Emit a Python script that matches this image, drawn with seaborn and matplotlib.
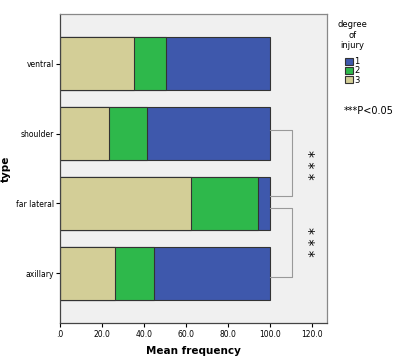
import seaborn as sns
import matplotlib.pyplot as plt
import pandas as pd
from matplotlib.patches import Patch

categories = ["ventral", "shoulder", "far lateral", "axillary"]
degree3 = [35.0, 23.5, 62.5, 26.0]
degree2 = [15.3, 17.8, 31.8, 18.6]
degree1 = [49.7, 58.7, 5.7, 55.4]

df = pd.DataFrame({"type": categories, "d1": degree1, "d2": degree2, "d3": degree3})
df["cum3"] = df["d3"]
df["cum2"] = df["d3"] + df["d2"]
df["cum1"] = df["d3"] + df["d2"] + df["d1"]

colors = {"1": "#3e58ac", "2": "#2eb84b", "3": "#d3ce97"}

fig = plt.figure(figsize=(4, 3.64), dpi=100)
ax = fig.add_axes([0.15, 0.1126, 0.6675, 0.849])
ax.set_facecolor("#f0f0f0")

# stacked horizontal bars: draw cumulative totals back to front
for col, key in [("cum1", "1"), ("cum2", "2"), ("cum3", "3")]:
    sns.barplot(data=df, x=col, y="type", order=categories, color=colors[key],
                width=0.75, edgecolor="#333333", linewidth=0.8, saturation=1, ax=ax)

ax.set_xlim(0, 127)
ax.set_ylim(3.71, -0.71)
ax.set_xticks([0, 20, 40, 60, 80, 100, 120])
ax.set_xticklabels([".0", "20.0", "40.0", "60.0", "80.0", "100.0", "120.0"], fontsize=5.5)
ax.tick_params(axis="y", labelsize=5.5, length=3, width=0.8, pad=1)
ax.tick_params(axis="x", length=3, width=0.8, pad=2)
ax.set_xlabel("Mean frequency", fontsize=7.5, fontweight="bold")
ax.set_ylabel("type", fontsize=7.5, fontweight="bold")
ax.xaxis.set_label_coords(0.5, -0.075)
ax.yaxis.set_label_coords(-0.185, 0.5)
for s in ax.spines.values():
    s.set_color("#888888")
    s.set_linewidth(0.9)
ax.spines["left"].set_color("#444444")
ax.spines["bottom"].set_color("#444444")

# significance brackets
br = "#999999"
ax.plot([100, 110.5, 110.5, 100], [0.95, 0.95, 1.9, 1.9], color=br, lw=0.8, clip_on=False)
ax.plot([100, 110.5, 110.5, 100], [2.07, 2.07, 3.05, 3.05], color=br, lw=0.8, clip_on=False)
ax.text(118, 1.45, "* * *", rotation=270, ha="center", va="center", fontsize=10)
ax.text(118, 2.55, "* * *", rotation=270, ha="center", va="center", fontsize=10)

handles = [Patch(facecolor=colors[k], edgecolor="#333333", linewidth=0.8, label=k) for k in ["1", "2", "3"]]
leg = fig.legend(handles=handles, title="degree\nof\ninjury", loc="upper left",
                 bbox_to_anchor=(0.825, 0.965), frameon=False, fontsize=6,
                 title_fontsize=6, handlelength=0.9, handleheight=0.9,
                 handletextpad=0.2, labelspacing=0.05, alignment="center")
leg.get_title().set_multialignment("center")
leg._legend_box.sep = 5

fig.text(0.86, 0.695, "***P<0.05", fontsize=7, va="center", ha="left")

plt.savefig("out.png", dpi=100)
